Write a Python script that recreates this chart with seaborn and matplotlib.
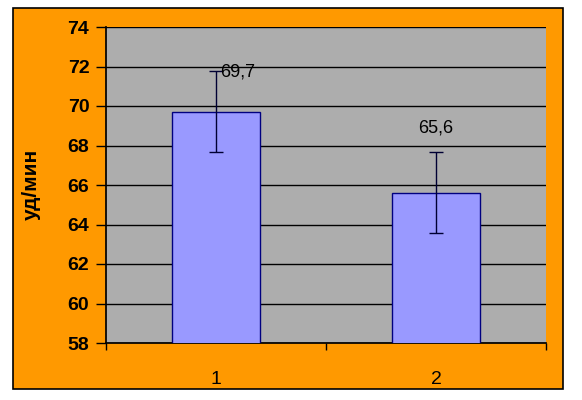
import pandas as pd
import matplotlib.pyplot as plt
import seaborn as sns
from matplotlib.patches import Rectangle

# Data

groups = ["1", "2"]
values = [69.7, 65.6]
errors = [2.05, 2.05]
labels = ["69,7", "65,6"]

df = pd.DataFrame({"group": groups, "value": values})

# Style

sns.set_theme(style="white", rc={
    "text.color": "black",
    "axes.labelcolor": "black",
    "xtick.color": "black",
    "ytick.color": "black",
})
plt.rcParams["font.family"] = ["Liberation Sans", "DejaVu Sans"]

fig = plt.figure(figsize=(5.82, 4.0), dpi=100, facecolor="white")

# orange chart area with black border
fig.patches.append(Rectangle(
    (13 / 582, 1 - 389 / 400), 550 / 582, 381 / 400,
    transform=fig.transFigure, facecolor="#FF9900",
    edgecolor="black", linewidth=1.2, zorder=-10
))

ax = fig.add_axes([106 / 582, 1 - 343 / 400, 440 / 582, 316 / 400])
ax.set_zorder(1)
ax.set_facecolor("#ADADAD")

sns.barplot(
    data=df,
    x="group",
    y="value",
    color="#9999FF",
    edgecolor="#000080",
    linewidth=1,
    width=0.4,
    saturation=1,
    errorbar=None,
    ax=ax,
    zorder=3
)

ax.errorbar(
    range(len(values)), values, yerr=errors,
    fmt="none", ecolor="#000033", elinewidth=1, capsize=5, capthick=1, zorder=4
)

# data labels
ax.text(0.02, 71.7, labels[0], ha="left", va="center", fontsize=13, zorder=5)
ax.text(1.0, 68.9, labels[1], ha="center", va="center", fontsize=13, zorder=5)

ax.set_ylim(58, 74)
ax.set_xlim(-0.5, 1.5)
ax.set_yticks(range(58, 75, 2))
ax.yaxis.grid(True, color="black", linewidth=1)
ax.set_axisbelow(True)

for tl in ax.get_yticklabels():
    tl.set_fontweight("bold")
ax.tick_params(axis="y", which="major", left=True, direction="out",
               length=7, width=1, color="black", labelsize=14, pad=5)
ax.tick_params(axis="x", which="major", bottom=False, labelsize=14, pad=14)
ax.set_xticks([-0.5, 0.5, 1.5], minor=True)
ax.tick_params(axis="x", which="minor", bottom=True, direction="out",
               length=5, width=1, color="black")

ax.spines["top"].set_visible(False)
ax.spines["right"].set_visible(False)
ax.spines["left"].set_color("black")
ax.spines["bottom"].set_color("black")

ax.set_xlabel("")
ax.set_ylabel("уд/мин", fontsize=15, fontweight="bold")
ax.yaxis.set_label_coords(-0.170, 0.503)
ax.yaxis.label.set_verticalalignment("center")

plt.savefig("out.png", dpi=100)
